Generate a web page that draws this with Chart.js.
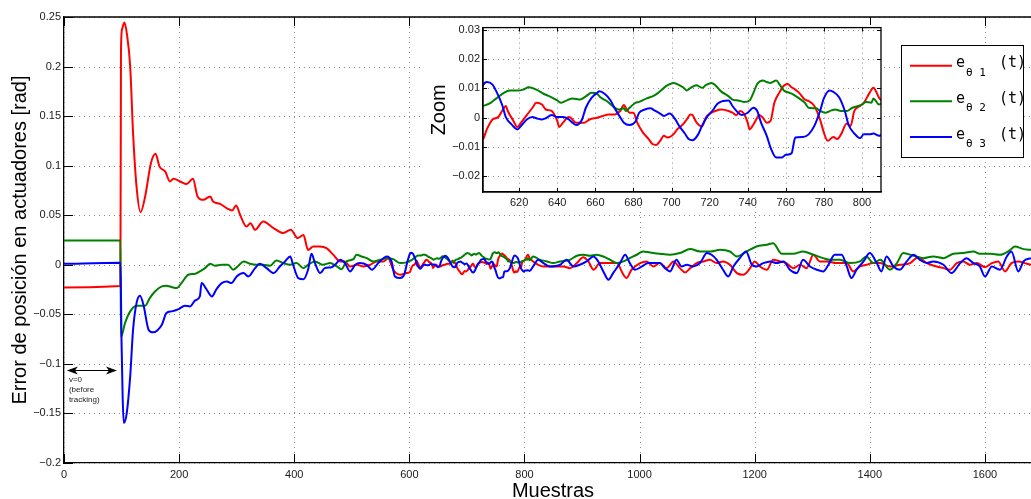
<!DOCTYPE html>
<html>
<head>
<meta charset="utf-8">
<script src="https://cdn.jsdelivr.net/npm/chart.js@4.4.1/dist/chart.umd.min.js"></script>
<style>
  body { margin: 0; background: #fff; }
  #wrap { position: relative; width: 1031px; height: 499px; overflow: hidden; }
  #main { position: absolute; left: 0; top: 0; }
  #zoom { position: absolute; left: 415px; top: 18px; }
</style>
</head>
<body>
<div id="wrap">
  <canvas id="main" width="1031" height="499"></canvas>
  <canvas id="zoom" width="485" height="197"></canvas>
</div>
<script>
// actuator position error [rad] per sample: [sample, error]
const e1 = [
  [0,-0.0229],[98,-0.0215],[99,0.216],[101,0.238],[105,0.2444],[109,0.234],[115,0.2],[120,0.1328],[126,0.079],[133,0.0531],
  [141,0.069],[151,0.1025],[159,0.112],[166,0.099],[176,0.094],[184,0.084],[190,0.0867],[202,0.084],[213,0.0814],[224,0.0867],
  [232,0.069],[242,0.0655],[254,0.069],[259,0.0638],[271,0.0615],[283,0.057],[292,0.0548],[299,0.0598],[306,0.0504],[317,0.0386],
  [324,0.042],[332,0.0353],[346,0.0437],[364,0.037],[381,0.032],[394,0.0353],[406,0.0269],[416,0.03],[424,0.015],[433,0.0185],
  [445,0.0185],[456,0.0168],[468,0.01],[480,0.0033],[488,0.0033],[497,-0.0017],[509,0],[520,-0.0017],[532,0],[543,0.0033],
  [555,0.0033],[563,0.0067],[572,-0.005],[584,-0.01],[595,-0.0084],
  [601,-0.0073],[603,-0.004],[606,-0.0006],[609,0.0002],[611,0.0023],[613,0.004],[614,0.0023],[617,-0.0011],[619,-0.0032],[621,-0.0017],
  [624,0.0009],[627,0.0034],[629,0.0051],[632,0.0045],[634,0.0028],[637,0.0023],[640,-0.0011],[641,-0.0032],[643,-0.0017],[646,0.0002],
  [647,0],[650,-0.0017],[654,-0.0017],[657,-0.0006],[661,0],[664,0.0006],[667,0.0011],[670,0.0011],[673,0.0023],[675,0.0043],
  [676,0.0034],[678,0.0017],[680,0.0017],[682,-0.0017],[685,-0.0051],[688,-0.0073],[690,-0.009],[692,-0.0093],[694,-0.0079],[696,-0.0062],
  [698,-0.0068],[701,-0.0057],[703,-0.004],[706,-0.0023],[708,-0.0006],[710,0.0011],[711,0.0009],[713,-0.0015],[716,-0.003],[718,0],
  [721,0.0017],[723,0.0023],[726,0.0028],[730,0.0023],[732,0.0017],[734,0.0009],[736,0.0023],[738,0.0014],[740,-0.0017],[741,-0.004],
  [743,-0.0023],[745,0],[746,0.0009],[748,0],[750,-0.0017],[752,-0.0011],[754,0.0051],[757,0.009],[758,0.0102],[761,0.0115],
  [763,0.0104],[765,0.0096],[767,0.0085],[770,0.0062],[772,0.0057],[775,0.004],[778,-0.0006],[780,-0.0051],[782,-0.0079],[785,-0.0066],
  [787,-0.0073],[789,-0.0057],[792,-0.002],[794,-0.0028],[796,0.0023],[799,0.004],[801,0.0051],[804,0.0085],[806,0.0102],[809,0.0068],
  [815,0.0034],[824,0],[833,-0.0017],[850,-0.0017],[867,-0.0017],[879,-0.0034],[891,0.0017],[902,0.0077],[911,0.0034],[920,-0.005],
  [931,0.0017],[949,0.0017],[960,0.0017],[972,-0.0101],[977,-0.0134],[986,-0.005],[1001,0.0017],[1012,0.0034],[1024,-0.0017],[1035,0.0017],
  [1047,-0.0034],[1059,0.0034],[1070,-0.0034],[1079,-0.0077],[1088,-0.0034],[1099,0.0017],[1111,0.0034],[1122,0.005],[1134,0.0017],[1145,0.0034],
  [1157,0],[1169,-0.0084],[1180,-0.0101],[1192,-0.0034],[1200,0.0034],[1209,-0.0017],[1221,-0.005],[1232,0.005],[1244,0.0034],[1255,0.0017],
  [1267,-0.0034],[1279,0],[1290,-0.0034],[1302,0.0101],[1313,0.0034],[1325,0.0034],[1342,0.0017],[1360,0.0017],[1371,-0.0067],[1383,-0.0017],
  [1394,0],[1406,0.0017],[1418,0.0017],[1435,-0.0017],[1452,0],[1470,0.0017],[1484,0.0077],[1499,0.0017],[1516,-0.0017],[1528,-0.0034],
  [1539,-0.005],[1551,0.0017],[1562,0.0034],[1574,0],[1586,0.0017],[1600,-0.0024],[1612,0.0017],[1623,0.0034],[1635,-0.0067],[1646,0.0017],
  [1658,0.0034],[1669,0.0017],[1680,0]
];
const e2 = [
  [0,0.0245],[98,0.0245],[99,-0.073],[106,-0.0588],[115,-0.047],[126,-0.0413],[141,-0.0413],[149,-0.0336],[158,-0.0269],[170,-0.0218],
  [178,-0.0212],[187,-0.0225],[196,-0.0235],[204,-0.0185],[216,-0.0101],[228,-0.0091],[236,-0.0067],[245,-0.0034],[254,0.001],[262,-0.001],
  [274,0],[285,0],[294,-0.005],[303,-0.001],[312,0.0034],[323,0.001],[335,0],[346,0],[358,-0.001],[369,0.0044],
  [381,0.0017],[393,0],[404,0.0017],[416,-0.0034],[424,0],[436,0.0034],[450,0],[462,0.0017],[474,-0.0017],[482,-0.0044],
  [491,0.0034],[503,0.0057],[508,0.0101],[517,0.0084],[526,0.0067],[537,0.0034],[549,0.005],[561,0.0067],[572,0.0057],[584,0.0017],
  [595,0.0024],
  [601,0.004],[605,0.0051],[608,0.0066],[612,0.0085],[615,0.0093],[619,0.0093],[622,0.0096],[625,0.0104],[629,0.0096],[633,0.0081],
  [636,0.0073],[640,0.0059],[642,0.0051],[645,0.0059],[648,0.0066],[652,0.0062],[655,0.0073],[658,0.0085],[661,0.0081],[663,0.0068],
  [666,0.0057],[669,0.004],[672,0.0028],[675,0.0032],[676,0.0023],[678,0.0034],[681,0.0051],[683,0.0054],[687,0.0066],[690,0.0073],
  [693,0.0085],[696,0.0102],[698,0.0111],[701,0.0119],[703,0.0115],[706,0.0104],[708,0.0093],[710,0.0102],[713,0.0111],[716,0.0102],
  [718,0.0111],[721,0.0119],[723,0.0111],[726,0.009],[730,0.0073],[732,0.0062],[735,0.0059],[738,0.0054],[741,0.0059],[743,0.0085],
  [745,0.0115],[748,0.0127],[750,0.0122],[752,0.0119],[755,0.0127],[757,0.0111],[759,0.0093],[762,0.0085],[764,0.0079],[767,0.0066],
  [770,0.0051],[772,0.0034],[776,0.0032],[778,0.0023],[781,0.0017],[784,0.0025],[786,0.0028],[789,0.0023],[792,0.0023],[795,0.0034],
  [798,0.004],[800,0.0045],[802,0.0054],[805,0.0051],[806,0.0066],[809,0.0045],
  [815,0.0084],[827,0.005],[839,0.0034],[850,0.0017],[862,0.0034],[879,0.005],[891,0.0091],[902,0.0101],[914,0.0091],[925,0.0101],
  [937,0.0084],[949,0.005],[960,0.0017],[972,0.0034],[983,0.0067],[995,0.0101],[1006,0.0134],[1018,0.0124],[1035,0.0111],[1053,0.0101],
  [1070,0.0118],[1088,0.0158],[1105,0.0134],[1122,0.0134],[1140,0.0151],[1157,0.0134],[1169,0.0084],[1186,0.0134],[1203,0.0185],[1221,0.0202],
  [1232,0.0218],[1247,0.0111],[1267,0.0111],[1284,0.0134],[1302,0.0101],[1319,0.0067],[1331,0.005],[1348,0.005],[1366,0.0017],[1383,0.0034],
  [1394,0.0084],[1406,0.0017],[1418,0.005],[1435,-0.005],[1447,0.0017],[1458,0.0118],[1476,0.0091],[1493,0.0067],[1510,0.0084],[1528,0.0067],
  [1545,0.0111],[1562,0.0118],[1580,0.0134],[1591,0.0111],[1609,0.0111],[1626,0.0101],[1643,0.0145],[1652,0.0185],[1667,0.0158],[1680,0.0151]
];
const e3 = [
  [0,0.001],[98,0.002],[100,-0.079],[102,-0.136],[104,-0.1597],[109,-0.1496],[115,-0.1126],[120,-0.0655],[126,-0.0387],[132,-0.0313],
  [138,-0.0403],[147,-0.0655],[155,-0.0682],[162,-0.0662],[170,-0.0605],[178,-0.0487],[187,-0.047],[199,-0.0447],[210,-0.0413],[219,-0.042],
  [228,-0.036],[236,-0.0319],[239,-0.0185],[248,-0.0252],[257,-0.0319],[265,-0.0245],[274,-0.0185],[283,-0.0168],[291,-0.0185],[300,-0.0118],
  [312,-0.0084],[320,-0.0118],[332,-0.0034],[340,0.001],[352,-0.0034],[364,-0.0084],[375,-0.0017],[384,0.0034],[393,0.0084],[398,0],
  [407,-0.0134],[416,-0.0145],[424,-0.005],[430,0.0111],[436,0.0017],[445,-0.0084],[453,-0.0034],[465,-0.0024],[471,0],[480,0.005],
  [488,0.0017],[497,-0.0067],[506,0],[514,0.0017],[526,0],[535,-0.005],[546,0.0017],[561,0.0084],[569,0.0034],[575,-0.0118],
  [584,-0.0134],[591,-0.01],[597,0.004],
  [601,0.0111],[603,0.0122],[606,0.0113],[608,0.009],[611,0.0045],[613,0.0002],[616,-0.0023],[619,-0.004],[621,-0.0028],[624,-0.0006],
  [627,0.0002],[629,-0.0002],[632,-0.0006],[634,-0.0002],[637,0.0009],[640,0.0002],[643,0.0002],[646,-0.0006],[648,-0.0017],[650,-0.0025],
  [653,-0.0006],[655,0.0034],[658,0.0068],[661,0.0085],[662,0.009],[665,0.0081],[668,0.0059],[670,0.0034],[673,0.0002],[675,-0.0017],
  [678,-0.0025],[681,-0.0014],[683,0.0017],[686,0.0028],[689,0.0032],[691,0.0025],[694,0.0014],[696,0.0006],[699,0.0014],[702,-0.0006],
  [704,-0.0028],[707,-0.0054],[709,-0.0073],[711,-0.0077],[714,-0.0057],[716,-0.0028],[719,0.0006],[722,0.0028],[724,0.0047],[727,0.0057],
  [730,0.0059],[732,0.004],[735,0.0017],[737,0.0009],[740,0.0017],[743,0.0034],[745,0.0023],[747,-0.0017],[750,-0.0062],[752,-0.0102],
  [755,-0.0136],[758,-0.0136],[760,-0.0127],[763,-0.0122],[765,-0.0068],[769,-0.0066],[772,-0.0057],[775,-0.0028],[778,0.0023],[780,0.0066],
  [783,0.0093],[785,0.0088],[788,0.007],[791,0.0023],[793,-0.0025],[796,-0.0054],[799,-0.007],[801,-0.0057],[804,-0.0057],[806,-0.0054],
  [809,-0.0062],
  [815,-0.0017],[824,0.005],[833,0.0017],[844,-0.0017],[862,0],[873,0.005],[885,-0.0017],[896,0],[908,0.0034],[920,0.0084],
  [928,0.0034],[937,-0.0067],[946,-0.0151],[954,-0.0084],[966,0.0017],[975,0.0101],[983,0.0017],[992,-0.005],[1004,-0.0017],[1015,0.0017],
  [1027,0.0017],[1035,0.0017],[1044,-0.0034],[1053,-0.0067],[1064,0.005],[1073,-0.0017],[1082,0],[1093,-0.0017],[1105,0.0017],[1117,0.0118],
  [1125,0.0101],[1134,0.005],[1145,-0.005],[1154,-0.0118],[1163,-0.0017],[1174,0.0067],[1185,0.0134],[1195,0],[1203,-0.0017],[1215,0.0017],
  [1227,0.0034],[1238,0.0017],[1250,0.0034],[1261,-0.005],[1273,-0.0084],[1284,0.005],[1296,-0.0017],[1308,-0.005],[1319,-0.0067],[1328,0],
  [1339,0.0101],[1351,0.0101],[1360,-0.0017],[1368,-0.0134],[1377,-0.005],[1389,0.0034],[1400,0.0118],[1412,0.0017],[1420,-0.0067],[1429,0.0084],
  [1441,-0.0017],[1452,-0.005],[1464,0.0034],[1476,0.0101],[1487,0.005],[1499,0.0017],[1510,0.0034],[1528,0],[1542,-0.0084],[1557,0.0017],
  [1568,0.0067],[1580,0.0017],[1591,-0.0017],[1600,-0.0118],[1612,-0.0017],[1626,-0.005],[1638,0.0084],[1646,0.0134],[1658,-0.0067],[1667,0.0034],
  [1680,0.0067]
];

const series = [e1, e2, e3];
const seriesIdx = ['1', '2', '3'];
const colors = ['#ff0000', '#008000', '#0000ff'];

const mainX = [0, 1680], mainY = [-0.2, 0.25];
const zoomX = [601, 810], zoomY = [-0.0254, 0.0308];

// "v=0" marker: span of samples before tracking starts
const arrowSpan = [5, 92], arrowLevel = -0.1066;
const noteLines = ['v=0', '(before', 'tracking)'];

const SANS = '"Liberation Sans", Arial, Helvetica, sans-serif';
const MONO = '"DejaVu Sans Mono", monospace';

const fmt = v => {
  const r = Math.round(v * 10000) / 10000;
  return r === 0 ? '0' : String(r).replace('-', '\u2212');
};

const makeSets = () => series.map((s, i) => ({
  data: s.map(p => ({ x: p[0], y: p[1] })),
  borderColor: colors[i],
  borderWidth: 2,
  pointRadius: 0,
  cubicInterpolationMode: 'monotone',
  order: 3 - i
}));

const axes = (xr, yr, xStep, yStep, yWidth, xHeight, xPad) => ({
  x: {
    type: 'linear', min: xr[0], max: xr[1],
    ticks: { stepSize: xStep, includeBounds: false, autoSkip: false, maxRotation: 0,
             padding: xPad, color: '#1a1a1a', font: { family: SANS, size: 11 }, callback: fmt },
    grid: { display: false, drawTicks: false },
    border: { color: '#000', width: 1.3 },
    afterFit: s => { s.height = xHeight; }
  },
  y: {
    type: 'linear', min: yr[0], max: yr[1],
    ticks: { stepSize: yStep, includeBounds: false, autoSkip: false,
             padding: 3, color: '#1a1a1a', font: { family: SANS, size: 11 }, callback: fmt },
    grid: { display: false, drawTicks: false },
    border: { color: '#000', width: 1.3 },
    afterFit: s => { s.width = yWidth; }
  }
});

// dotted grid at every tick
const dottedGrid = {
  id: 'dottedGrid',
  beforeDatasetsDraw(chart) {
    const { ctx, chartArea: a, scales: { x, y } } = chart;
    ctx.save();
    ctx.strokeStyle = '#8c8c8c';
    ctx.lineWidth = 1;
    ctx.setLineDash([1, 4]);
    ctx.beginPath();
    x.ticks.forEach(t => {
      const p = Math.round(x.getPixelForValue(t.value)) + 0.5;
      ctx.moveTo(p, a.top); ctx.lineTo(p, a.bottom);
    });
    y.ticks.forEach(t => {
      const p = Math.round(y.getPixelForValue(t.value)) + 0.5;
      ctx.moveTo(a.left, p); ctx.lineTo(a.right, p);
    });
    ctx.stroke();
    ctx.restore();
  }
};

// inward tick marks
function drawTicks(ctx, chart, len, sides) {
  const { chartArea: a, scales: { x, y } } = chart;
  ctx.beginPath();
  x.ticks.forEach(t => {
    const p = Math.round(x.getPixelForValue(t.value)) + 0.5;
    ctx.moveTo(p, a.bottom); ctx.lineTo(p, a.bottom - len);
    ctx.moveTo(p, a.top); ctx.lineTo(p, a.top + len);
  });
  y.ticks.forEach(t => {
    const p = Math.round(y.getPixelForValue(t.value)) + 0.5;
    ctx.moveTo(a.left, p); ctx.lineTo(a.left + len, p);
    if (sides === 4) { ctx.moveTo(a.right, p); ctx.lineTo(a.right - len, p); }
  });
  ctx.stroke();
}

const mainDecor = {
  id: 'mainDecor',
  afterDraw(chart) {
    const { ctx, chartArea: a, scales: { x, y } } = chart;
    ctx.save();
    ctx.strokeStyle = '#000';
    ctx.lineWidth = 1.3;
    ctx.beginPath(); ctx.moveTo(a.left, a.top); ctx.lineTo(a.right, a.top); ctx.stroke();
    ctx.lineWidth = 1;
    drawTicks(ctx, chart, 9, 3);

    // double arrow over the idle interval
    const ay = Math.round(y.getPixelForValue(arrowLevel)) + 0.5;
    const ax1 = x.getPixelForValue(arrowSpan[0]), ax2 = x.getPixelForValue(arrowSpan[1]);
    ctx.lineWidth = 1.2;
    ctx.beginPath(); ctx.moveTo(ax1 + 3, ay); ctx.lineTo(ax2 - 3, ay); ctx.stroke();
    ctx.fillStyle = '#000';
    ctx.beginPath();
    ctx.moveTo(ax1, ay); ctx.lineTo(ax1 + 11, ay - 4); ctx.lineTo(ax1 + 8, ay); ctx.lineTo(ax1 + 11, ay + 4); ctx.closePath();
    ctx.moveTo(ax2, ay); ctx.lineTo(ax2 - 11, ay - 4); ctx.lineTo(ax2 - 8, ay); ctx.lineTo(ax2 - 11, ay + 4); ctx.closePath();
    ctx.fill();
    ctx.fillStyle = '#222';
    ctx.font = '8px ' + SANS;
    ctx.textAlign = 'left';
    ctx.textBaseline = 'alphabetic';
    noteLines.forEach((s, i) => ctx.fillText(s, ax1 + 2, ay + 11.5 + i * 10));

    // axis titles
    ctx.fillStyle = '#000';
    ctx.font = '20px ' + SANS;
    ctx.textAlign = 'center';
    ctx.fillText('Muestras', 553, 497);
    ctx.save();
    ctx.translate(26, (a.top + a.bottom) / 2);
    ctx.rotate(-Math.PI / 2);
    ctx.fillText('Error de posición en actuadores [rad]', 0, 0);
    ctx.restore();

    // legend
    ctx.fillStyle = '#fff';
    ctx.fillRect(901, 45, 122, 112);
    ctx.strokeStyle = '#000';
    ctx.lineWidth = 1;
    ctx.strokeRect(901.5, 45.5, 122, 112);
    ctx.textAlign = 'left';
    seriesIdx.forEach((n, i) => {
      const ly = 65.7 + i * 35.6;
      ctx.strokeStyle = colors[i];
      ctx.lineWidth = 2;
      ctx.beginPath(); ctx.moveTo(910, ly); ctx.lineTo(952, ly); ctx.stroke();
      ctx.fillStyle = '#000';
      ctx.font = '15px ' + MONO;
      ctx.fillText('e', 956, ly + 1.6);
      ctx.fillText('(t)', 999, ly + 1.6);
      ctx.font = '11px ' + MONO;
      ctx.fillText('\u03b8 ' + n, 966, ly + 10);
    });
    ctx.restore();
  }
};

const zoomDecor = {
  id: 'zoomDecor',
  beforeDraw(chart) {
    const ctx = chart.ctx;
    ctx.save();
    ctx.fillStyle = '#fff';
    ctx.fillRect(7, 7, 460, 171);
    ctx.restore();
  },
  afterDraw(chart) {
    const { ctx, chartArea: a } = chart;
    ctx.save();
    ctx.strokeStyle = '#000';
    ctx.lineWidth = 1.3;
    ctx.strokeRect(a.left, a.top, a.right - a.left, a.bottom - a.top);
    ctx.lineWidth = 1;
    drawTicks(ctx, chart, 4, 4);
    ctx.fillStyle = '#000';
    ctx.font = '20px ' + SANS;
    ctx.textAlign = 'center';
    ctx.translate(29.5, (a.top + a.bottom) / 2);
    ctx.rotate(-Math.PI / 2);
    ctx.fillText('Zoom', 0, 0);
    ctx.restore();
  }
};

const common = {
  responsive: false,
  animation: false,
  devicePixelRatio: 1,
  plugins: { legend: { display: false }, tooltip: { enabled: false } }
};

new Chart(document.getElementById('main'), {
  type: 'line',
  data: { datasets: makeSets() },
  options: Object.assign({}, common, {
    layout: { padding: { top: 17, left: 0, right: 0, bottom: 0 } },
    scales: axes(mainX, mainY, 200, 0.05, 64, 36, 5)
  }),
  plugins: [dottedGrid, mainDecor]
});

new Chart(document.getElementById('zoom'), {
  type: 'line',
  data: { datasets: makeSets() },
  options: Object.assign({}, common, {
    layout: { padding: { top: 8, left: 0, right: 19, bottom: 0 } },
    scales: axes(zoomX, zoomY, 20, 0.01, 68, 23, 4)
  }),
  plugins: [dottedGrid, zoomDecor]
});
</script>
</body>
</html>
